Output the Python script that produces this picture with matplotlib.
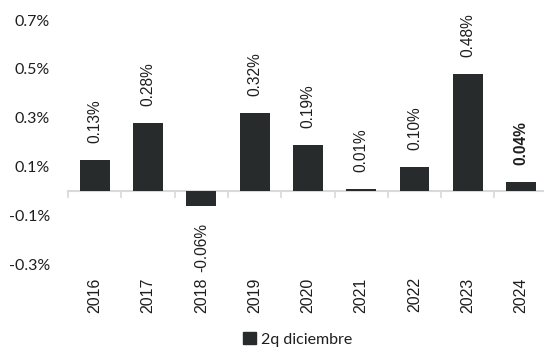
import matplotlib
matplotlib.use("Agg")
import matplotlib.pyplot as plt
from matplotlib.patches import Patch

years = ["2016", "2017", "2018", "2019", "2020", "2021", "2022", "2023", "2024"]
values = [0.13, 0.28, -0.06, 0.32, 0.19, 0.01, 0.10, 0.48, 0.04]
value_labels = ["0.13%", "0.28%", "-0.06%", "0.32%", "0.19%", "0.01%", "0.10%", "0.48%", "0.04%"]
yticks = [-0.3, -0.1, 0.1, 0.3, 0.5, 0.7]
series_name = "2q diciembre"

BAR = "#272b2b"
GRID = "#d9d9d9"
TXT = "#1e1e1e"

fig = plt.figure(figsize=(5.44, 3.48), dpi=100)
# the plot area runs slightly past the right edge, as in the source
ax = fig.add_axes([0.125, 0.239, 0.882, 0.7035])

x = list(range(len(years)))
ax.bar(x, values, width=0.56, color=BAR, zorder=3)
ax.set_xlim(-0.5, len(years) - 0.5)
ax.set_ylim(-0.3, 0.7)

# value labels, rotated
for i, (v, lab) in enumerate(zip(values, value_labels)):
    bold = i == len(values) - 1
    ax.annotate(
        lab,
        (i, v),
        xytext=(0, 12 if v >= 0 else -12),
        textcoords="offset points",
        rotation=90,
        ha="center",
        va="bottom" if v >= 0 else "top",
        fontsize=11.2,
        family="Liberation Sans",
        fontweight="bold" if bold else "normal",
        color=TXT,
    )

# y axis
ax.set_yticks(yticks)
ax.set_yticklabels([f"{t:.1f}%" for t in yticks], family="Lato", fontsize=11.5, color=TXT)
ax.tick_params(axis="y", length=0, pad=13)

# x labels at bottom
ax.set_xticks(x)
ax.set_xticklabels(years, rotation=90, family="Liberation Sans", fontsize=11.5, color=TXT)
ax.tick_params(axis="x", length=0, pad=9)

for s in ax.spines.values():
    s.set_visible(False)

# category axis along zero with boundary ticks
zero_frac = (0 - ax.get_ylim()[0]) / (ax.get_ylim()[1] - ax.get_ylim()[0])
sec = ax.secondary_xaxis(zero_frac)
sec.set_xticks([b - 0.5 for b in range(len(years) + 1)])
sec.set_xticklabels([])
sec.tick_params(axis="x", length=5, width=1.2, color=GRID)
sec.spines["bottom"].set_color(GRID)
sec.spines["bottom"].set_linewidth(1.5)
for name in ["top", "left", "right"]:
    if name in sec.spines:
        sec.spines[name].set_visible(False)

handle = Patch(facecolor=BAR, edgecolor=BAR)
fig.legend(
    [handle],
    [series_name],
    loc="center",
    bbox_to_anchor=(0.547, 0.025),
    frameon=False,
    prop={"family": "Lato", "size": 11.5},
    handlelength=0.8,
    handleheight=0.8,
    handletextpad=0.3,
    labelcolor=TXT,
)

fig.savefig("out.png", dpi=100)
